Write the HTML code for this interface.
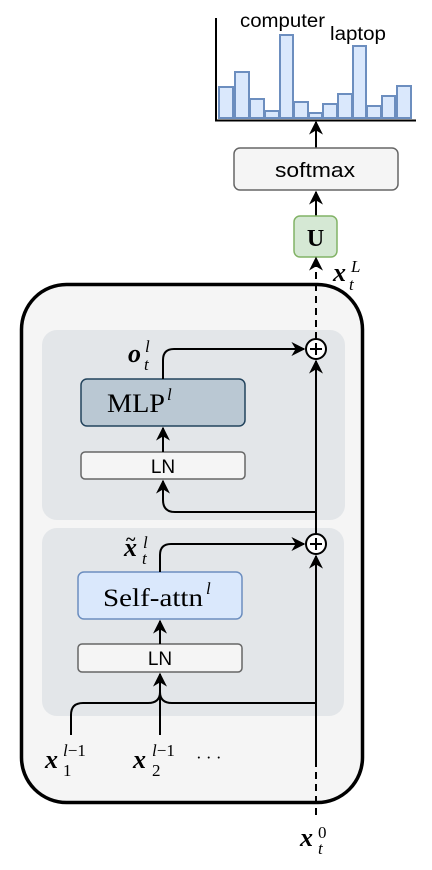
<!DOCTYPE html>
<html><head><meta charset="utf-8"><style>
html,body{margin:0;padding:0;background:#fff;}
svg{display:block;}
.s{font-family:"Liberation Sans",sans-serif;}
.m{font-family:"Liberation Serif",serif;}
.x{font-family:"Liberation Serif",serif;font-style:italic;font-weight:bold;font-size:26px;}
.sp{font-family:"Liberation Serif",serif;font-size:17px;}
</style></head><body>
<svg width="432" height="870" viewBox="0 0 432 870" xmlns="http://www.w3.org/2000/svg">
<defs>
<marker id="a" viewBox="0 0 10 10" refX="9" refY="5" markerWidth="7" markerHeight="7" orient="auto"><path d="M0,0 L10,5 L0,10 L3,5 z" fill="#000"/></marker>
</defs>
<!-- chart -->
<g fill="#dae8fc" stroke="#6c8ebf" stroke-width="2">
<rect x="219" y="87" width="14" height="31"/>
<rect x="235" y="72" width="14" height="46"/>
<rect x="250" y="99" width="14" height="19"/>
<rect x="265" y="111" width="14" height="7"/>
<rect x="280" y="35" width="13" height="83"/>
<rect x="294" y="102" width="14" height="16"/>
<rect x="309" y="113" width="13" height="5"/>
<rect x="323" y="104" width="14" height="14"/>
<rect x="338" y="94" width="14" height="24"/>
<rect x="353" y="46" width="13" height="72"/>
<rect x="367" y="106" width="14" height="12"/>
<rect x="382" y="96" width="13" height="22"/>
<rect x="397" y="86" width="14" height="32"/>
</g>
<path d="M216,18 V120.5 H416" fill="none" stroke="#000" stroke-width="2"/>
<text x="240" y="27" class="s" font-size="19" textLength="85" lengthAdjust="spacingAndGlyphs">computer</text>
<text x="330" y="40" class="s" font-size="19" textLength="56" lengthAdjust="spacingAndGlyphs">laptop</text>
<!-- softmax -->
<line x1="316" y1="148" x2="316" y2="122" stroke="#000" stroke-width="2" marker-end="url(#a)"/>
<rect x="234" y="148" width="164" height="42" rx="6" fill="#f5f5f5" stroke="#666" stroke-width="1.5"/>
<text x="275" y="177" class="s" font-size="20" textLength="80" lengthAdjust="spacingAndGlyphs">softmax</text>
<line x1="316" y1="216" x2="316" y2="192" stroke="#000" stroke-width="2" marker-end="url(#a)"/>
<rect x="294" y="216" width="43" height="41" rx="6" fill="#d5e8d4" stroke="#82b366" stroke-width="1.5"/>
<text x="315.5" y="246" class="m" font-size="24" font-weight="bold" text-anchor="middle">U</text>
<text x="333" y="281" class="x">x</text>
<text x="351" y="272" class="sp" font-style="italic">L</text>
<text x="349" y="290" class="sp" font-style="italic">t</text>
<!-- outer box -->
<rect x="21.5" y="284.5" width="341" height="518" rx="45" fill="#f5f5f5" stroke="#000" stroke-width="3.5"/>
<rect x="42" y="330" width="303" height="190" rx="15" fill="#e3e6e9"/>
<rect x="42" y="528" width="302" height="188" rx="15" fill="#e3e6e9"/>
<!-- dashed top -->
<line x1="316" y1="339" x2="316" y2="258" stroke="#000" stroke-width="2" stroke-dasharray="7,5" marker-end="url(#a)"/>
<!-- main vertical -->
<line x1="316" y1="760" x2="316" y2="556" stroke="#000" stroke-width="2" marker-end="url(#a)"/>
<line x1="316" y1="534" x2="316" y2="361" stroke="#000" stroke-width="2" marker-end="url(#a)"/>
<line x1="316" y1="760" x2="316" y2="816" stroke="#000" stroke-width="2" stroke-dasharray="7,5"/>
<!-- circles -->
<g fill="none" stroke="#000" stroke-width="2">
<circle cx="316" cy="349" r="10" fill="#fff"/><path d="M310,349 H322 M316,343 V355"/>
<circle cx="316" cy="544" r="10" fill="#fff"/><path d="M310,544 H322 M316,538 V550"/>
</g>
<!-- MLP block -->
<rect x="81" y="379" width="164" height="47" rx="6" fill="#bac8d3" stroke="#23445d" stroke-width="1.5"/>
<text x="107" y="412" class="m" font-size="26" textLength="58" lengthAdjust="spacingAndGlyphs">MLP</text>
<text x="167" y="400" class="m" font-size="17" font-style="italic">l</text>
<rect x="81" y="452" width="164" height="27" rx="4" fill="#f5f5f5" stroke="#666" stroke-width="1.5"/>
<text x="163" y="473" class="s" font-size="19" text-anchor="middle">LN</text>
<line x1="163" y1="452" x2="163" y2="428" stroke="#000" stroke-width="2" marker-end="url(#a)"/>
<path d="M163,379 V360 Q163,349 174,349 H304" fill="none" stroke="#000" stroke-width="2" marker-end="url(#a)"/>
<text x="128" y="362" class="x">o</text>
<text x="145" y="352" class="sp" font-style="italic">l</text>
<text x="144" y="370" class="sp" font-style="italic">t</text>
<!-- attn block -->
<rect x="78" y="572" width="164" height="47" rx="6" fill="#dae8fc" stroke="#6c8ebf" stroke-width="1.5"/>
<text x="103" y="606" class="m" font-size="25" textLength="100" lengthAdjust="spacingAndGlyphs">Self-attn</text>
<text x="206" y="594" class="m" font-size="17" font-style="italic">l</text>
<rect x="78" y="644" width="164" height="28" rx="4" fill="#f5f5f5" stroke="#666" stroke-width="1.5"/>
<text x="160" y="665" class="s" font-size="19" text-anchor="middle">LN</text>
<line x1="160" y1="644" x2="160" y2="621" stroke="#000" stroke-width="2" marker-end="url(#a)"/>
<path d="M160,572 V555 Q160,544 171,544 H304" fill="none" stroke="#000" stroke-width="2" marker-end="url(#a)"/>
<path d="M316,512 H175 Q163,512 163,500 V481" fill="none" stroke="#000" stroke-width="2" marker-end="url(#a)"/>
<text x="124" y="556" class="x">x</text>
<text x="126" y="545" class="m" font-size="18" font-weight="bold">~</text>
<text x="143" y="548" class="sp" font-style="italic">l</text>
<text x="142" y="564" class="sp" font-style="italic">t</text>
<!-- inputs -->
<path d="M71,735 V715 Q71,703 83,703 H148 Q160,703 160,692" fill="none" stroke="#000" stroke-width="2"/>
<path d="M316,703 H172 Q160,703 160,692" fill="none" stroke="#000" stroke-width="2"/>
<line x1="160" y1="735" x2="160" y2="674" stroke="#000" stroke-width="2" marker-end="url(#a)"/>
<text x="45" y="768" class="x">x</text>
<text x="63" y="756" class="sp"><tspan font-style="italic">l</tspan>−1</text>
<text x="63" y="776" class="sp">1</text>
<text x="133" y="768" class="x">x</text>
<text x="152" y="756" class="sp"><tspan font-style="italic">l</tspan>−1</text>
<text x="152" y="776" class="sp">2</text>
<text x="196" y="763" class="m" font-size="17">· · ·</text>
<text x="300" y="846" class="x">x</text>
<text x="318" y="838" class="sp">0</text>
<text x="318" y="854" class="sp" font-style="italic">t</text>
</svg>
</body></html>
